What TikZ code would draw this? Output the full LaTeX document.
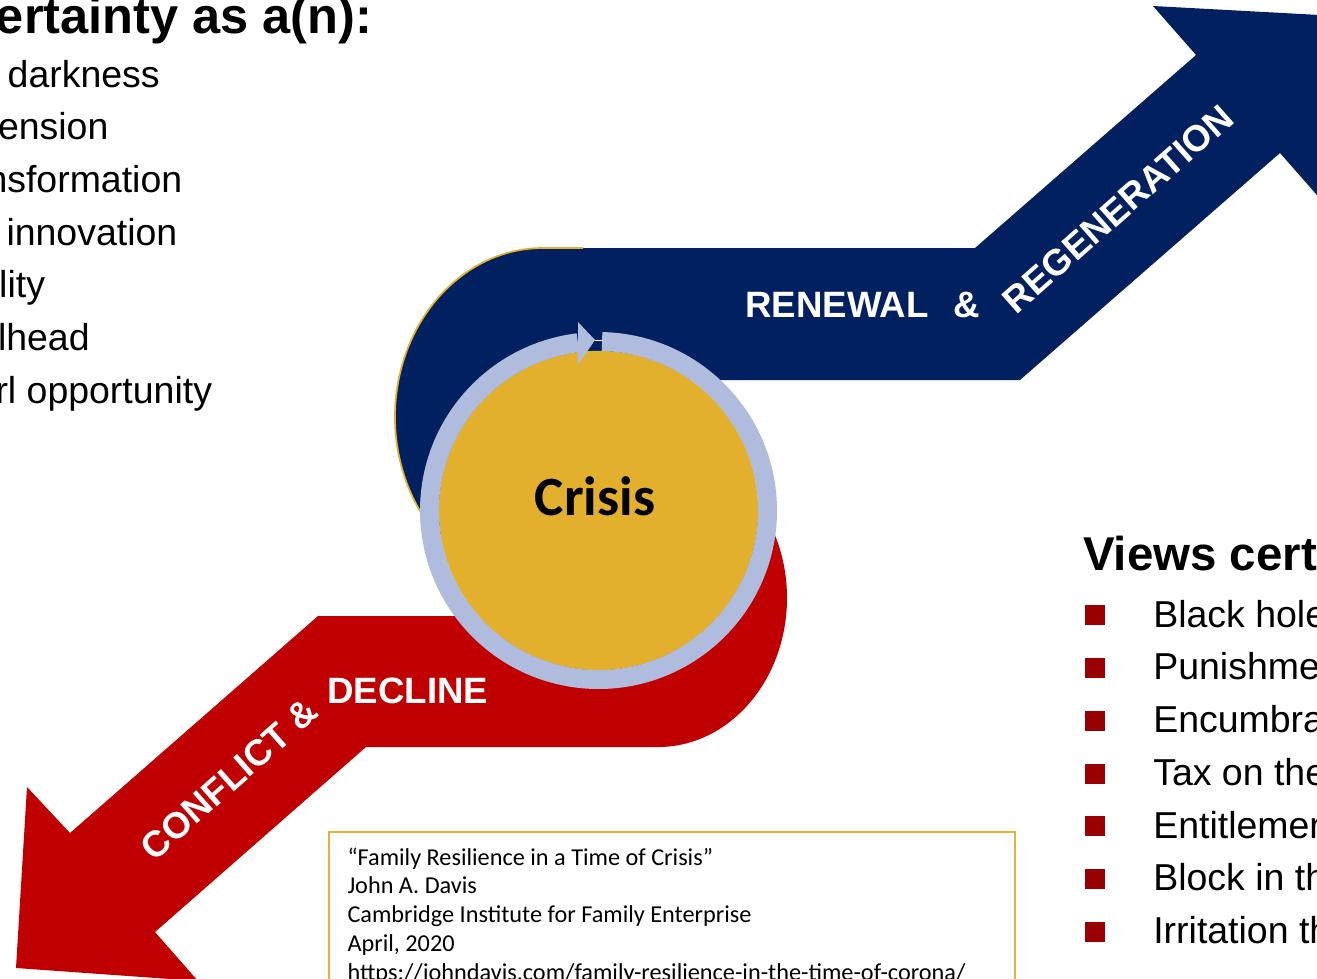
\documentclass[tikz,border=0pt]{standalone}
\usepackage{fontspec}
\setmainfont{Liberation Sans}
\newfontfamily\calibri{Carlito}
\usetikzlibrary{calc}
\definecolor{navy}{HTML}{002060}
\definecolor{crimson}{HTML}{C00000}
\definecolor{gold}{HTML}{E2B02C}
\definecolor{ringblue}{HTML}{B0BCDE}
\definecolor{bulletred}{HTML}{990000}
\definecolor{boxgold}{HTML}{E3B33C}
\tikzset{
  txt/.style={inner sep=0pt, outer sep=0pt, anchor=base west},
  listtxt/.style={txt, font=\fontsize{28.1pt}{33pt}\selectfont},
  titletxt/.style={txt, font=\bfseries\fontsize{37.9pt}{44pt}\selectfont},
  bandtxt/.style={inner sep=0pt, outer sep=0pt, text=white, font=\bfseries\fontsize{27.5pt}{32pt}\selectfont},
  bulletsq/.style={fill=bulletred, draw=none, minimum size=15pt, inner sep=0pt, anchor=north west},
  citetxt/.style={txt, font=\calibri\fontsize{18.2pt}{21.8pt}\selectfont},
  crisislabel/.style={inner sep=0pt, anchor=base, font=\calibri\bfseries\fontsize{41.5pt}{48pt}\selectfont},
}
\begin{document}
\begin{tikzpicture}[x=0.75pt,y=-0.75pt]
\useasboundingbox (0,0) rectangle (1317,978);
\clip (0,0) rectangle (1317,978);

% ---- renewal band (navy) ----
\fill[navy] (543,248) -- (975,248) -- (1196,55) -- (1153,6) -- (1338,16)
  -- (1323,202) -- (1280,153) -- (1020,380) -- (543,380) -- cycle;
\fill[navy] (543,417) ellipse[x radius=148, y radius=169];
\draw[gold, line width=1.3pt] (583,248) -- (543,248)
  arc[start angle=270, end angle=100, x radius=148, y radius=169];

% ---- decline band (red) ----
\fill[crimson] (318,616) -- (658,616) -- (658,747) -- (366,747) -- (155,932)
  -- (198,981) -- (16,968) -- (27,787) -- (70,833) -- cycle;
\fill[crimson] (658,598) ellipse[x radius=129, y radius=149];

% ---- central circle with cycle ring ----
\coordinate (c) at (598.5,510.5);
\node[circle, fill=gold, draw=none, minimum size=239.5pt, inner sep=0pt] (core) at (c) {};
\draw[ringblue, line width=14.25pt] ($(c)+(271.2:169)$)
  arc[start angle=271.2, end angle=623.0, radius=169];
\fill[ringblue] (578,322) -- (595,340) -- (578,365) -- cycle;
\draw[white, line width=1.2pt] (595,340.5) -- (602.5,340.5);
\node[crisislabel] (crisis) at (595,515) {Crisis};

% ---- band labels ----
\node[bandtxt, anchor=base west] (renewal) at (745.5,317) {RENEWAL};
\node[bandtxt, anchor=base west] (amp1) at (953,317) {\&};
\node[bandtxt, rotate=41.5] (regen) at (1118,209) {REGENERATION};
\node[bandtxt, anchor=base west] (decline) at (327.5,703) {DECLINE};
\node[bandtxt, rotate=41.5] (conflict) at (229,779) {CONFLICT \&};

% ---- left column ----
\node[titletxt] (ltitle) at (-4,33) {ertainty as a(n):};
\node[listtxt] (l1) at (7.7,87)   {darkness};
\node[listtxt] (l2) at (-2,139.5) {ension};
\node[listtxt] (l3) at (-13.5,192) {nsformation};
\node[listtxt] (l4) at (6.5,245)  {innovation};
\node[listtxt] (l5) at (-0.8,297.5) {lity};
\node[listtxt] (l6) at (-2,350)   {lhead};
\node[listtxt] (l7) at (-4.5,403) {rl opportunity};

% ---- right column ----
\node[titletxt, font=\bfseries\fontsize{35.6pt}{42pt}\selectfont] (rtitle) at (1083,570) {Views cert};
\foreach \k/\t [count=\i from 0] in {a/Black hole, b/Punishme, c/Encumbra, d/Tax on the, e/Entitlemen, f/Block in th, g/Irritation th}{
  \node[bulletsq] (sq\k) at (1085,605+52.75*\i) {};
  \node[listtxt] (r\k) at (1153.3,627+52.75*\i) {\t};
}

% ---- citation box ----
\draw[boxgold, line width=1.5pt, fill=white] (329,832) rectangle (1015,1000);
\node[citetxt] (cite1) at (347.5,865) {“Family Resilience in a Time of Crisis”};
\node[citetxt] (cite2) at (347.5,893.8) {John A. Davis};
\node[citetxt] (cite3) at (347.5,922.6) {Cambridge Institute for Family Enterprise};
\node[citetxt] (cite4) at (347.5,951.4) {April, 2020};
\node[citetxt] (cite5) at (347.5,980.2) {https://johndavis.com/family-resilience-in-the-time-of-corona/};
\end{tikzpicture}
\end{document}
